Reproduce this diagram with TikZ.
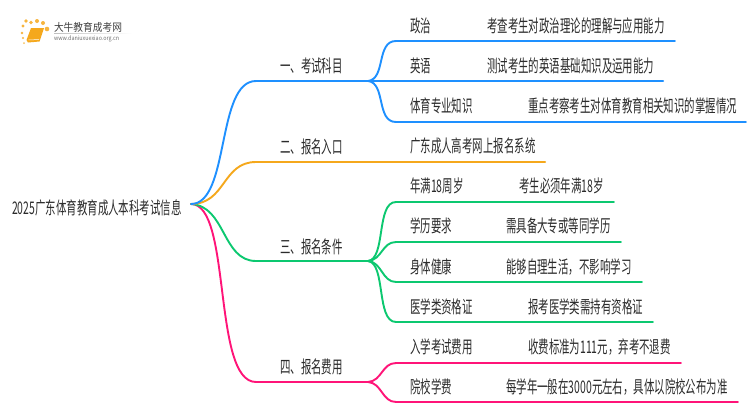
\documentclass[tikz,border=0pt]{standalone}
\usepackage{fontspec}
\setmainfont[FakeStretch=0.6]{Noto Sans CJK SC}
\newfontfamily\logofont[FakeStretch=0.9]{Noto Sans CJK SC}
\definecolor{cblue}{HTML}{1E90FF}
\definecolor{corange}{HTML}{F5A81C}
\definecolor{cgreen}{HTML}{0CC870}
\definecolor{cpink}{HTML}{FF1478}
\definecolor{ctext}{HTML}{2B2B2B}
\tikzset{
  lbl/.style={anchor=west,inner sep=0pt,text=ctext,font=\fontsize{17.4}{17.4}\selectfont},
  conn/.style={line width=1.9pt,line cap=round},
  leaf/.style={line width=2.3pt,line cap=round},
  pt/.style={inner sep=0pt,outer sep=0pt}
}
\begin{document}
\begin{tikzpicture}[x=1pt,y=-1pt]
\useasboundingbox (0,0) rectangle (750,410);
\fill[white] (0,0) rectangle (750,410);
% logo
\foreach \px/\py/\r in {22/33/1.4,23/26/1.6,26/21/1.8,31/22.5/1.9,37/21/2,43/23/2,47/29/2.3,23/38/1.2}{
  \fill[corange!85!white] (\px,\py) circle (\r);
}
\fill[corange!70!white] (24,43) circle (1);
\fill[corange] (31,28) -- (44,28) -- (39.5,41.5) -- (28,42.5) -- (26.5,40) -- cycle;
\draw[white,line width=0.5pt] (28.5,40) -- (39,39.5);
\node[pt,anchor=west,text=black!75,font=\logofont\fontsize{10.8}{11}\selectfont] (logot) at (54,27) {大牛教育成考网};
\node[pt,anchor=west,text=black!55,font=\logofont\fontsize{6}{7}\selectfont] (logou) at (54,38.5) {www.daniuxuexiao.org.cn};
\shade[left color=black!25,right color=white] (54,33) rectangle (132,33.6);
% text nodes
\node[lbl] (root) at (12,208) {2025广东体育教育成人本科考试信息};
\node[lbl] (a) at (280,66) {一、考试科目};
\node[lbl] (b) at (280,147) {二、报名入口};
\node[lbl] (c) at (280,247) {三、报名条件};
\node[lbl] (d) at (280,367) {四、报名费用};
\node[lbl] (a1) at (410,26) {政治};
\node[lbl] (a2) at (410,66) {英语};
\node[lbl] (a3) at (410,106) {体育专业知识};
\node[lbl] (b1) at (410,146) {广东成人高考网上报名系统};
\node[lbl] (c1) at (410,186) {年满18周岁};
\node[lbl] (c2) at (410,226) {学历要求};
\node[lbl] (c3) at (410,267) {身体健康};
\node[lbl] (c4) at (410,307) {医学类资格证};
\node[lbl] (d1) at (410,347) {入学考试费用};
\node[lbl] (d2) at (410,387) {院校学费};
\node[lbl] (a1t) at (487,26) {考查考生对政治理论的理解与应用能力};
\node[lbl] (a2t) at (487,66) {测试考生的英语基础知识及运用能力};
\node[lbl] (a3t) at (528,106) {重点考察考生对体育教育相关知识的掌握情况};
\node[lbl] (c1t) at (519,186) {考生必须年满18岁};
\node[lbl] (c2t) at (506,226) {需具备大专或等同学历};
\node[lbl] (c3t) at (506,267) {能够自理生活，不影响学习};
\node[lbl] (c4t) at (528,307) {报考医学类需持有资格证};
\node[lbl] (d1t) at (528,347) {收费标准为111元，弃考不退费};
\node[lbl] (d2t) at (506,387) {每学年一般在3000元左右，具体以院校公布为准};
% junctions
\coordinate (o) at (191,204);
\coordinate (ja) at (368,81);
\coordinate (jb) at (368,162);
\coordinate (jc) at (368,261);
\coordinate (jd) at (368,382);
\coordinate (ea1) at (675,41);
\coordinate (ea2) at (663,81);
\coordinate (ea3) at (746,122);
\coordinate (eb1) at (545,162);
\coordinate (ec1) at (614,202);
\coordinate (ec2) at (621,242);
\coordinate (ec3) at (642,282);
\coordinate (ec4) at (653,322);
\coordinate (ed1) at (681,363);
\coordinate (ed2) at (738,402);
% trunks
\draw[conn,cpink] (o) .. controls (232,204) and (212,382) .. (256,382) -- (jd);
\draw[conn,cgreen] (o) .. controls (226,206) and (222,261) .. (256,261) -- (jc);
\draw[conn,corange] (o) .. controls (226,204) and (222,162) .. (256,162) -- (jb);
\draw[conn,cblue] (o) .. controls (230,204) and (216,81) .. (256,81) -- (ja);
% branches
\draw[conn,cblue] (ja) .. controls (386,79) and (376,41) .. (396,41) -- (ea1);
\draw[leaf,cblue] (ja) -- (ea2);
\draw[conn,cblue] (ja) .. controls (386,83) and (376,122) .. (396,122) -- (ea3);
\draw[leaf,corange] (jb) -- (eb1);
\draw[conn,cgreen] (jc) .. controls (386,259) and (376,202) .. (396,202) -- (ec1);
\draw[conn,cgreen] (jc) .. controls (382,260) and (382,242) .. (396,242) -- (ec2);
\draw[conn,cgreen] (jc) .. controls (382,262) and (382,282) .. (396,282) -- (ec3);
\draw[conn,cgreen] (jc) .. controls (386,263) and (376,322) .. (396,322) -- (ec4);
\draw[conn,cpink] (jd) .. controls (382,381) and (382,363) .. (396,363) -- (ed1);
\draw[conn,cpink] (jd) .. controls (382,383) and (382,402) .. (396,402) -- (ed2);
\end{tikzpicture}
\end{document}
